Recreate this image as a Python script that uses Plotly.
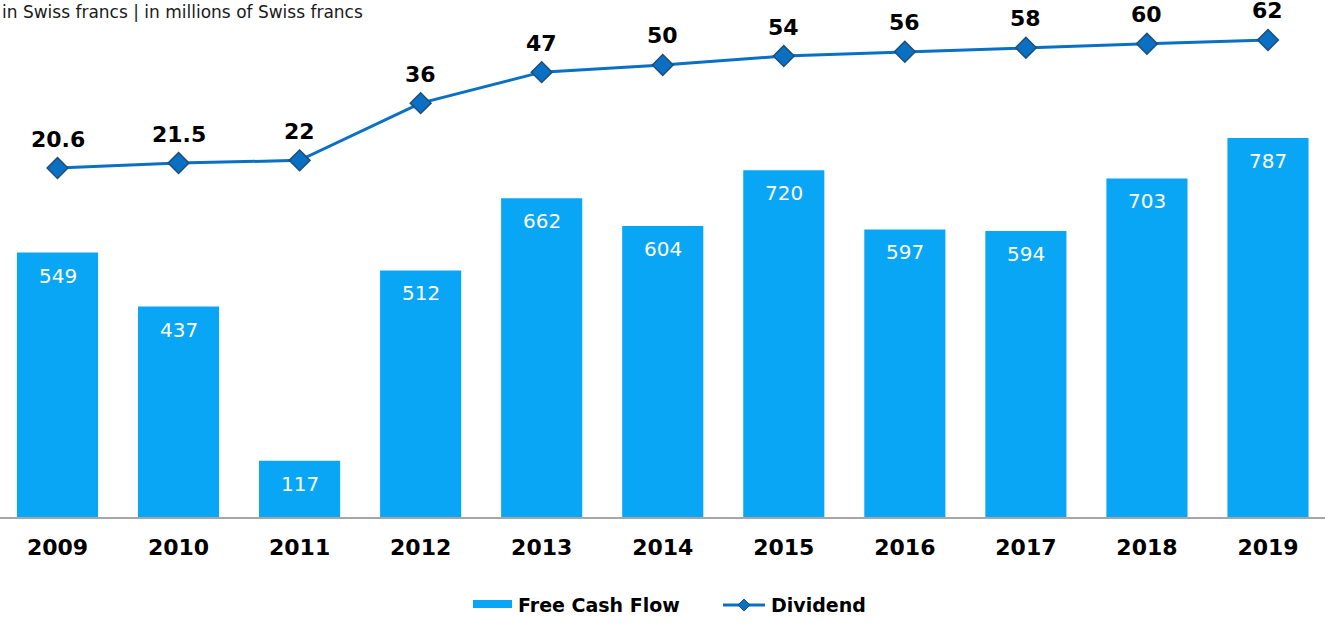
import math
import plotly.graph_objects as go

years = ["2009", "2010", "2011", "2012", "2013", "2014", "2015", "2016", "2017", "2018", "2019"]
free_cash_flow = [549, 437, 117, 512, 662, 604, 720, 597, 594, 703, 787]
dividend = [20.6, 21.5, 22, 36, 47, 50, 54, 56, 58, 60, 62]
dividend_labels = ["20.6", "21.5", "22", "36", "47", "50", "54", "56", "58", "60", "62"]

FONT = "DejaVu Sans, Verdana, sans-serif"
BAR_COLOR = "#08A6F5"
LINE_COLOR = "#0A70C4"
x_idx = list(range(len(years)))

W, H = 1325, 626
T, B = 20, 109
PH = H - T - B

fig = go.Figure()
fig.add_trace(go.Bar(
    x=x_idx, y=free_cash_flow, name="Free Cash Flow",
    marker=dict(color=BAR_COLOR, line=dict(width=0)),
    width=0.67, showlegend=False, hoverinfo="y",
))
fig.add_trace(go.Scatter(
    x=x_idx, y=dividend, name="Dividend", yaxis="y2",
    mode="lines+markers",
    line=dict(color=LINE_COLOR, width=3),
    marker=dict(symbol="diamond", size=16, color=LINE_COLOR, line=dict(color="#1F4E79", width=1.5)),
    showlegend=False, cliponaxis=False,
))

annotations = []
for i, v in enumerate(free_cash_flow):
    annotations.append(dict(x=i, y=v, xref="x", yref="y", text=str(v), showarrow=False,
                            yanchor="middle", yshift=-23,
                            font=dict(family=FONT, size=20, color="white")))
for i, (v, lab) in enumerate(zip(dividend, dividend_labels)):
    annotations.append(dict(x=i, y=math.log10(v), xref="x", yref="y2", text=lab, showarrow=False,
                            yanchor="middle", yshift=29,
                            font=dict(family=FONT, size=22, color="black", weight="bold")))

def py(pix):
    return (H - B - pix) / PH

def px(pix):
    return pix / W

annotations.append(dict(
    text="in Swiss francs | in millions of Swiss francs",
    xref="paper", yref="paper", x=0, y=py(12), xanchor="left", yanchor="middle",
    showarrow=False, font=dict(family=FONT, size=17, color="#1a1a1a"),
))
annotations.append(dict(text="Free Cash Flow", xref="paper", yref="paper", x=px(516), y=py(605),
                        xanchor="left", yanchor="middle", showarrow=False,
                        font=dict(family=FONT, size=19, color="black", weight="bold")))
annotations.append(dict(text="Dividend", xref="paper", yref="paper", x=px(769), y=py(605),
                        xanchor="left", yanchor="middle", showarrow=False,
                        font=dict(family=FONT, size=19, color="black", weight="bold")))

shapes = [
    dict(type="rect", xref="paper", yref="paper", x0=px(473), x1=px(512), y0=py(608), y1=py(600),
         fillcolor=BAR_COLOR, line=dict(width=0)),
    dict(type="line", xref="paper", yref="paper", x0=px(723), x1=px(765), y0=py(605), y1=py(605),
         line=dict(color=LINE_COLOR, width=3)),
    dict(type="path", xref="paper", yref="paper",
         path=f"M {px(744)},{py(599)} L {px(750)},{py(605)} L {px(744)},{py(611)} L {px(738)},{py(605)} Z",
         fillcolor=LINE_COLOR, line=dict(color="#1F4E79", width=1)),
]

fig.update_layout(
    width=W, height=H,
    margin=dict(l=0, r=0, t=T, b=B),
    paper_bgcolor="white", plot_bgcolor="white",
    showlegend=False,
    xaxis=dict(
        range=[-0.475, 10.471], tickmode="array", tickvals=x_idx, ticktext=years,
        showgrid=False, zeroline=False, showline=True, linecolor="#A6A6A6", linewidth=2,
        ticks="", ticklabelstandoff=10,
        tickfont=dict(family=FONT, size=22, color="black", weight="bold"),
    ),
    yaxis=dict(range=[0, 1032], visible=False, showgrid=False, zeroline=False),
    yaxis2=dict(type="log", range=[0.0097, 1.867], overlaying="y", side="right",
                visible=False, showgrid=False, zeroline=False),
    annotations=annotations,
    shapes=shapes,
)

fig.write_html("out.html", config={"displayModeBar": False},
               post_script="document.body.style.margin='0';document.body.style.overflow='hidden';")
